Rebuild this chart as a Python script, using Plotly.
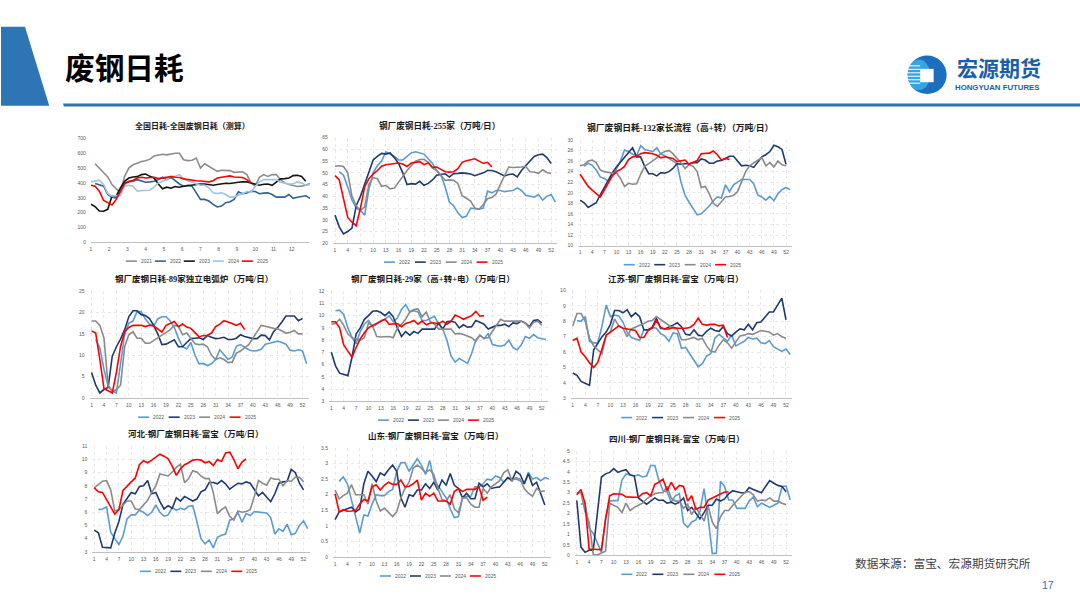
import plotly.graph_objects as go

W, H = 1080, 608
N = None

# ---------- panel 1: national, by month ----------
a1_2021 = [N,529,500,467,440,389,362,333,444,500,522,533,544,549,560,582,589,593,589,596,600,600,556,550,552,567,500,529,511,496,478,485,483,483,471,471,475,456,400,378,438,456,444,456,456,422,400,389,384,376,378,384,396]
a1_2022 = [N,396,389,378,322,304,300,355,400,407,411,422,411,404,407,411,422,438,422,438,415,393,378,384,378,333,289,289,278,255,238,244,267,273,289,340,327,333,344,342,327,331,333,322,304,304,304,322,296,304,309,313,296]
a1_2023 = [256,240,211,209,222,311,311,367,411,433,440,442,456,460,444,433,393,360,371,364,376,371,378,382,389,393,393,393,389,384,389,393,398,396,402,404,407,407,400,393,384,391,393,384,407,427,429,433,449,451,444,411]
a1_2024 = [407,413,418,389,329,311,311,316,378,384,378,344,349,349,351,371,400,411,422,444,444,456,429,415,407,393,384,384,367,333,329,333,322,304,304,318,327,342,338,378,407,422,422,418,422,404,398,393,393,407,400,384,389]
a1_2025 = [384,378,344,282,267,251,289,344,393,411,418,433,438,433,438,438,429,433,440,442,438,436,427,422,418,415,413,411,407,415,433,438,442,447,440,436,436,422,400]

# ---------- panel 2: 255 mills ----------
a2_2022 = [N,50.5,49,44,38.5,35,34,32,43,50,53,55,59,58,57,55.5,55.5,57,58.5,59,58.5,58,56,54,51,49,44,37.5,36,33,31,31.5,35,34.8,34.5,35,42.2,41.5,42.5,42.5,42,42.3,42.5,43.6,42.5,40.5,40.2,39.7,40.8,38.4,40,40.8,37.5]
a2_2023 = [32,27,24,25,26.5,36,40,45,50,55.5,57,58.3,58,58.5,56.5,54,50,45,45.4,45.2,46.4,44.7,45.5,47,49,49.2,49.6,48.2,49.7,49.8,50,49.8,49.5,48.8,49.3,50,51,51,50.5,49.5,48.7,49.3,49.5,48.3,51,53,55,57,57.7,58,56.5,54]
a2_2024 = [52.8,53,52.7,50,40,36,34,35.5,45,48,47.5,44.2,44.7,43.2,43.5,46,49,51,53,55,55.7,55.8,54.5,52,51,49,46.8,47,46.8,45.5,40.3,39.2,38,35,34.5,36.5,39,39.5,41,45,49,52.5,52.3,52.3,52.5,52.8,50.5,50.4,49.8,51.3,50.2,49.7]
a2_2025 = [48.8,47,39,31,29,27.5,35,44,47.5,49.5,51,52.8,53.5,53.7,53.8,54.2,53.8,52.7,54.2,54.5,54.8,53.5,54.2,52.4,52.5,51.5,50.5,50.3,50.5,51.8,54.5,55.2,55.6,56,55,54,54.5,52.5]

# ---------- panel 3: 132 long-process ----------
a3_2022 = [N,25,25.6,25.2,24.3,23,22.7,22.2,23.2,24.5,26,28.1,27.8,27.3,27,28.9,28.2,28,27.8,28.5,27.3,27,26.5,26,25.5,22,19.5,18.2,17,15.8,16,16.7,17.5,18.5,19.2,19,21.5,20.2,21.5,22,22.5,22.5,22.5,21.7,19.6,19.2,18.6,19.3,18.5,19.8,20.6,21,20.6]
a3_2023 = [18.6,18.1,17.2,17.6,18.1,19.6,21,22.5,23.8,24.9,25.8,26.6,27.6,28.5,26.8,26.8,25,23.6,23.6,23.2,23.8,23.7,24,24.6,25.5,25.4,25.5,25.5,25.7,25.7,26.4,26.2,25.6,25.6,26,26.1,26.5,26.9,26.9,26,25.1,25.2,25.1,24.8,25.7,26.8,27.2,27.8,29,28.7,28.2,25.4]
a3_2024 = [25.1,25.3,26,26.2,25.7,24.3,24,23.8,23.7,23.8,22.7,21.2,21.8,21.6,21.7,23.5,25,25.5,26,26.6,27.4,27.8,28,27.4,26.5,25.7,24.6,25.3,25,24,21,21.2,19.8,18,17.4,18.2,19.2,19.3,19.5,20.2,22,24,25.1,25.6,26.2,26.7,25.1,25.7,24.9,26,25.3,25.1]
a3_2025 = [23.5,22.3,21.2,20.5,19.8,19.2,20.5,22,23.2,24,24.4,25,26.3,26.8,26.9,27.4,27.6,27.5,27.4,27.1,26.6,26.8,26.7,26.5,25.9,26.1,26.2,25.4,25.8,26.1,27.4,27.4,27.5,27.9,27.2,26.2,26.5,26.3]

# ---------- panel 4: 89 EAF ----------
a4_2022 = [N,13.7,11.7,6.7,2.8,1.7,1.2,8,15,17.5,18,20.2,20.2,18.5,17.3,16.8,18.5,19,19,18,16.5,14,12,11.5,13,10,8,8.1,7.6,8,9,11.3,10.2,9,9.6,12.1,12.5,11.9,11.3,11,11.1,11.4,12.6,12.8,13.1,13.3,13,12.6,11.2,11,11.3,11,8]
a4_2023 = [6,3,1.2,2,2.5,9.8,12,13.8,16,19,20.4,20.4,19.5,19.3,18.6,17,15,12.5,12.6,13.2,13.6,12,12,13,13.9,14,14.1,13.7,14.6,14.2,13.9,14,14.2,13.7,13.7,14,14.8,14.4,14.1,13.9,13.9,14.7,14.6,13.6,15.5,16.5,17.8,19.2,19.2,19.2,18.1,18.6]
a4_2024 = [18,18,17,14,3,1.5,2,3,12,14.8,15.5,14,14,12.8,12.8,13.5,14,14.7,15.3,16,17,16.8,14.8,15.2,14,12.7,12.5,12.6,12,10,9,9.4,9,8.3,8.4,10.5,11,11.7,12.5,14,15.5,17,16.8,16.5,16.3,16.2,15.6,15.2,15.4,15.8,15,15]
a4_2025 = [15.7,15.2,9,2.2,1.7,1.2,6,12,15.5,16.5,17,17,17,16.7,17,16.9,16.2,15.4,17,17.5,17.9,16.7,17.3,16.6,16.3,15.3,14.3,14.6,14.7,15.2,16.7,17.3,18.1,17.8,17.4,17,17.5,16]

# ---------- panel 5: 29 mills ----------
a5_2022 = [N,10.4,10.45,10.1,9,8.2,7.7,8.7,9.3,9.6,9.1,9.3,9.6,9.7,10,9.5,9.8,10.5,10.9,10.3,10.4,10.3,9.6,9.6,9.8,9.95,9.3,8.9,8,6.7,6.2,6.5,6.3,6.1,6.9,8,8.4,8.1,8.55,7.65,7.55,7.5,7.6,8,7.4,7.2,7.6,8.3,8.15,8.45,8.2,8.15,8.05]
a5_2023 = [7,5.9,5.3,5.2,5.1,6.6,8.5,9,9.7,10,10.35,10.4,10.25,10,10.3,9.9,9,8.3,8.7,8.4,8.7,8.55,8.9,8.9,8.9,8.9,9.4,8.9,9.5,9.55,9.45,9,9.25,9.05,9.1,9.6,9.45,9.3,8.9,9.05,9.2,9.2,9.3,9.1,9.4,9.35,9.55,9.4,9.1,9.6,9.65,9.4]
a5_2024 = [9.3,9.35,9.7,9.2,8.5,8.2,8.1,8,8.2,9.4,9.15,8.3,8.25,8.25,8.3,8.2,9,9.3,9.7,10.3,10.5,10.55,9.9,10.3,9.5,9.3,8.9,8.9,8.9,8.9,8.5,8.55,8.45,8.35,8.2,7.9,8.4,8.15,8.2,8.7,9.2,9.7,9.55,9.55,9.55,9.55,9.55,9.4,9,9.45,9.55,9.2]
a5_2025 = [9.5,9.5,9,7.6,7.1,6.6,7.4,8.1,8.6,9,9.2,9.35,9.55,9.7,9.3,9.3,9.35,9.1,9.35,9.45,9.6,9.3,9.55,9.25,9.4,9.4,9.35,9.55,9.3,9.55,10.05,9.9,9.7,9.85,10,10.35,9.95,10]

# ---------- panel 6: Jiangsu ----------
a6_2022 = [N,8.05,8,8.3,6.7,6.6,6.6,7.7,9.05,8.3,8.4,8.35,7.95,7.3,6.95,6.85,6.75,7.45,7.4,7.6,7.55,7.2,7.05,6.7,7.25,7.2,6.25,6.3,5.9,5.45,5.05,5.25,5.75,5.9,6.9,7.15,6.95,6.7,7.1,6.4,6.55,6.7,6.95,6.85,6.9,6.6,6.55,6.75,6.35,6.2,6.05,6.2,5.85]
a6_2023 = [4.65,4.5,4.1,3.95,3.85,6.15,6.6,7,7.3,7.8,8.7,8.7,8.55,8.75,8.3,8.55,8.3,7.45,7.45,7.6,8.2,7.55,7.5,7.6,7.75,7.9,7.65,7.15,7.1,7.45,7.1,7.05,7.35,7.55,7.4,7.35,7.65,7.2,7.05,7.3,7.5,7.45,7.8,7.45,7.9,7.95,8.3,8.6,8.6,9.1,9.5,8.1]
a6_2024 = [7.7,8.5,8.5,8,6.9,6.4,6.15,5.9,7.1,7.3,8.15,7.7,7.55,7,7.5,7.6,7.7,7.85,8,8.05,8.3,8.1,7.9,7.7,7.55,7.5,6.8,6.8,6.9,6.95,6.8,6.9,6.4,6.05,6,6.45,6.8,6.6,6.25,6.65,7.05,7.1,7.2,7.15,7.3,7.4,7.35,7.3,7.1,7.2,7,6.9]
a6_2025 = [6.75,6.9,6,5.7,5.3,5,5.35,6.3,7.1,7.3,7.5,7.7,7.55,7.5,7.45,7.4,6.95,6.95,7.4,7.55,8.05,7.6,7.5,7.5,7.6,7.55,7.55,7.55,7.6,7.8,8.2,7.8,7.75,7.8,7.8,7.7,7.75,6.95]

# ---------- panel 7: Hebei ----------
a7_2022 = [N,6.2,6.25,6.4,4.5,4,3.55,4.2,5.5,5.8,5.8,6.15,6,5.75,6,6.55,6,5.7,5.8,6.35,6.15,6.3,6.2,6.45,6.5,5.3,4,3.6,3.9,3.3,4.1,4.25,4.35,5.4,5.5,6,5.25,5.9,5.75,6.05,6,5.95,5.95,5.6,4.35,4.75,4.55,5.1,4.3,4.4,5,5.35,4.75]
a7_2023 = [4.65,4.45,3.35,3.3,3.3,4.4,5.3,6.6,7.1,7.5,7.4,7.95,8,8.4,7.4,7.5,6.8,6.25,6.5,6.3,7.1,6.85,7.2,7,6.85,7,7.55,7.7,8.25,8.25,8.15,8.4,8.15,7.75,8,8.2,8.15,8.3,8.2,7.75,7.25,7.5,7.15,6.8,7.4,8.2,8.3,8.35,9.25,9,8.2,7.7]
a7_2024 = [7.85,8.1,8.35,8.4,7.7,6.1,6.2,6.55,6.85,6.85,6.25,6.2,6.55,6.9,7.5,8,8.9,8.85,8.75,9.05,9.4,9.65,8.25,8.55,9.15,9.05,8.75,8.55,8.55,7.5,5.9,6.2,6.4,5.7,5.4,6.1,6,6.05,6.2,7.2,8.4,8.2,8.05,8.6,8.5,8.5,8,8.4,8.35,8.65,8.65,8.3]
a7_2025 = [7.85,7.55,7.5,7,6.4,5.85,6.2,7.65,8,8.3,8.6,9.6,9.9,9.75,9.95,10.15,10.4,10.25,10.05,9.5,8.8,9.3,9.6,9.75,9.95,10,9.95,9.75,9.85,9.55,10,9.85,10.5,10.55,10,9.3,9.8,10.05]

# ---------- panel 8: Shandong ----------
a8_2022 = [N,2.42,2.57,2.35,1.85,1.3,0.77,1.35,1.32,1.7,2,1.97,1.97,2.1,2.17,2.75,3.02,3.03,2.75,2.95,3.15,2.95,2.65,3.1,2.5,2.3,2.1,1.9,1.55,1.27,1.3,1.9,1.95,1.95,2.25,2.25,2.35,2.5,2.47,2.6,2.55,2.4,2.55,2.5,2.5,2.45,2.35,2.72,2.5,2.55,2.45,2.55,2.5]
a8_2023 = [1.2,1.45,1.5,1.55,1.6,1.45,1.55,2.35,2.75,2.6,2.42,2.7,2.62,2.8,2.95,2.75,1.9,1.6,2,1.95,2.15,2.15,2.35,2.2,2.4,2.15,2.47,2.3,2.68,2.3,2.2,1.9,2.05,1.87,1.87,2.37,2.25,2.35,2.2,2.23,2.25,2.4,2.55,2.45,2.75,2.65,2.35,2.67,2.3,2.4,2,1.67]
a8_2024 = [2.15,1.87,1.97,2.05,2.32,2,2,2,1.7,2.35,1.8,1.48,1.57,1.45,1.3,1.45,1.9,2.2,2.4,2.85,2.95,2.85,2.7,2.8,2.65,2.2,1.85,1.8,2,1.55,1.42,1.9,1.9,1.7,1.6,1.6,2.2,2.05,2.25,2.35,2.45,2.7,2.8,2.45,2.55,2.5,2.2,2.05,1.95,2.2,2.1,2.13]
a8_2025 = [2.03,1.45,1.52,1.47,1.48,1.5,1.7,1.85,1.8,2.25,2.32,2.15,2.3,2.4,2.33,2.33,2.47,2.25,2.27,2.35,2.47,1.83,2.05,1.95,2.05,1.8,1.8,1.8,1.7,2.1,2.2,2.1,2.17,2.17,2.17,2.25,1.82,1.92]

# ---------- panel 9: Sichuan ----------
a9_2022 = [N,2.45,2.5,1.3,1.05,0.6,0.15,1.8,2.6,2.62,2.62,3.6,3.9,3.85,3.8,3.85,3.75,3.8,4.3,4.3,3.6,3.1,3.05,2.55,2.85,2.95,1.55,1.35,1.6,1.7,2.1,3.2,1.8,0.1,0.1,3.55,3.3,2.65,2.65,2.25,2.25,2.25,2.6,2.8,2.33,2.5,2.4,2.3,2.4,2.5,3.3,3.32,2.65]
a9_2023 = [2.63,0.4,0.15,0.25,0.25,2,3.75,3.9,3.97,4.15,3.97,4.05,4.1,3.85,3.8,2.75,2.6,2.45,2.6,2.75,2.63,2.65,2.5,2.55,2.45,2.55,2.75,2.15,2.3,2.05,1.75,2.05,2.4,2.4,2.7,2.6,2.7,2.95,3.1,3.05,3,3,3.25,3.15,3.08,3,3.3,3.58,3.45,3.35,3.3,3.05]
a9_2024 = [3,3,2.1,1.6,0.05,0.03,0.12,0.2,2.5,2.4,2.3,2.05,2.5,2.15,2.3,2.4,2.5,2.7,2.85,2.95,3,3,3.3,2.75,2.6,2.6,2.25,2.45,1.95,2.3,1.95,1.65,2.35,1.6,1.28,1.85,2.15,2.15,2.4,2.6,2.8,3.02,3.05,2.9,2.6,2.65,2.62,2.75,2.6,2.6,2.5,2.42]
a9_2025 = [2.9,3.15,2.5,0.3,0.3,0.28,0.28,1.7,2.85,2.95,2.95,2.93,2.8,2.78,2.78,2.78,2.95,3,2.85,3.4,3.5,3.65,3.1,3.5,3.15,3.35,3.3,2.6,2.85,2.2,2.3,2.3,2.65,2.75,2.85,2.95,3.03,3.03]

weeks = list(range(1, 54))
week_ticks = list(range(1, 53, 3))
month_ticks = list(range(1, 13))
BLUE, NAVY, GRAY, RED = "#5b9bd5", "#1f3a72", "#8a8a8a", "#ff0000"
C4 = {"2022": BLUE, "2023": NAVY, "2024": GRAY, "2025": RED}
C5 = {"2021": "#8c8c8c", "2022": "#2f6294", "2023": "#141414", "2024": "#9dc3e6", "2025": "#ff0000"}
CJK = "Noto Sans CJK SC"
SERIF = f"Liberation Serif, {CJK}"
LW = 1.6
GRID = "#e8e8e8"

panels = [
    dict(title="全国日耗-全国废钢日耗（测算）", series={"2021": a1_2021, "2022": a1_2022, "2023": a1_2023, "2024": a1_2024, "2025": a1_2025},
         box=(90, 309.3, 136.7, 241.7), yr=(0, 700), dy=100, tc=(191.7, 124), ts=8, leg=(125, 260.7, 29), grid=False, monthly=True),
    dict(title="钢厂废钢日耗-255家（万吨/日）", series={"2022": a2_2022, "2023": a2_2023, "2024": a2_2024, "2025": a2_2025},
         box=(332.2, 557, 136, 242.7), yr=(20, 65), dy=5, tc=(439, 124), ts=8.6, leg=(383.3, 261.7, 30.9)),
    dict(title="钢厂废钢日耗-132家长流程（高+转）（万吨/日）", series={"2022": a3_2022, "2023": a3_2023, "2024": a3_2024, "2025": a3_2025},
         box=(577.6, 791.8, 138.3, 245), yr=(10, 30), dy=2, tc=(679.3, 125.3), ts=8.8, leg=(623.3, 264.3, 30.5)),
    dict(title="钢厂废钢日耗-89家独立电弧炉（万吨/日）", series={"2022": a4_2022, "2023": a4_2023, "2024": a4_2024, "2025": a4_2025},
         box=(88.6, 308, 291, 399), yr=(0, 25), dy=5, tc=(192.7, 279), ts=8.5, leg=(137.3, 418.3, 30.5)),
    dict(title="钢厂废钢日耗-29家（高+转+电）（万吨/日）", series={"2022": a5_2022, "2023": a5_2023, "2024": a5_2024, "2025": a5_2025},
         box=(328.6, 547.5, 291, 402.3), yr=(3, 12), dy=1, tc=(432.7, 278.7), ts=8.5, leg=(377.3, 421.3, 30)),
    dict(title="江苏-钢厂废钢日耗-富宝（万吨/日）", series={"2022": a6_2022, "2023": a6_2023, "2024": a6_2024, "2025": a6_2025},
         box=(570.2, 792, 290.3, 399.3), yr=(3, 10), dy=1, tc=(675.7, 279), ts=8.5, leg=(620.7, 418.7, 31)),
    dict(title="河北-钢厂废钢日耗-富宝（万吨/日）", series={"2022": a7_2022, "2023": a7_2023, "2024": a7_2024, "2025": a7_2025},
         box=(91.3, 309, 447.7, 554.3), yr=(3, 11), dy=1, tc=(195, 435.3), ts=8.5, leg=(139, 574, 30.5)),
    dict(title="山东-钢厂废钢日耗-富宝（万吨/日）", series={"2022": a8_2022, "2023": a8_2023, "2024": a8_2024, "2025": a8_2025},
         box=(332.3, 550.5, 449.3, 559.7), yr=(0, 3.5), dy=0.5, tc=(435, 437), ts=8.5, leg=(379.3, 578.7, 30)),
    dict(title="四川-钢厂废钢日耗-富宝（万吨/日）", series={"2022": a9_2022, "2023": a9_2023, "2024": a9_2024, "2025": a9_2025},
         box=(574.3, 792, 452.3, 558), yr=(0, 5), dy=0.5, tc=(676.7, 440), ts=8.5, leg=(621, 577, 31)),
]

def X(px): return px / W
def Y(py): return 1 - py / H

fig = go.Figure()
shapes, annos, layout = [], [], {}
TICK = dict(size=5, color="#595959", family="Liberation Sans")

for i, p in enumerate(panels, 1):
    suffix = "" if i == 1 else str(i)
    x0, x1, top, bottom = p["box"]
    monthly = p.get("monthly", False)
    colors = C5 if monthly else C4
    for name, vals in p["series"].items():
        fig.add_trace(go.Scatter(x=weeks[:len(vals)], y=vals, mode="lines", name=name, showlegend=False,
                                 connectgaps=False, hoverinfo="skip",
                                 line=dict(color=colors[name], width=LW),
                                 xaxis=f"x{suffix}", yaxis=f"y{suffix}"))
    grid = p.get("grid", True)
    if monthly:
        tv = [1 + (m - 1) * 52 / 12 for m in month_ticks]
        tt = [str(m) for m in month_ticks]
        xr = [1, 53]
    else:
        tv = week_ticks
        tt = [str(w) for w in week_ticks]
        xr = [0.5, 53.5]
    layout[f"xaxis{suffix}"] = dict(domain=[X(x0), X(x1)], range=xr, tickmode="array", tickvals=tv, ticktext=tt,
                                    anchor=f"y{suffix}", showgrid=grid, gridcolor=GRID, griddash="dot", gridwidth=0.5,
                                    showline=True, linecolor="#bfbfbf", linewidth=0.8, ticks="", zeroline=False,
                                    tickangle=0, tickfont=TICK, ticklabelstandoff=2)
    layout[f"yaxis{suffix}"] = dict(domain=[Y(bottom), Y(top)], range=list(p["yr"]), dtick=p["dy"], tick0=p["yr"][0],
                                    anchor=f"x{suffix}", showgrid=grid, gridcolor=GRID, griddash="dot", gridwidth=0.5,
                                    showline=False, ticks="", zeroline=False, tickfont=TICK, ticklabelstandoff=4)
    annos.append(dict(text=f"<b>{p['title']}</b>", xref="paper", yref="paper", x=X(p["tc"][0]), y=Y(p["tc"][1]),
                      xanchor="center", yanchor="middle", showarrow=False,
                      font=dict(size=p["ts"], color="#1a1a1a", family=SERIF)))
    lx, ly, pitch = p["leg"]
    for j, name in enumerate(p["series"]):
        sx = lx + j * pitch
        shapes.append(dict(type="line", xref="paper", yref="paper", x0=X(sx), x1=X(sx + 11), y0=Y(ly), y1=Y(ly),
                           line=dict(color=colors[name], width=LW)))
        annos.append(dict(text=name, xref="paper", yref="paper", x=X(sx + 13), y=Y(ly), xanchor="left", yanchor="middle",
                          showarrow=False, font=TICK))

def path(points):
    return "M " + " L ".join(f"{X(a):.5f} {Y(b):.5f}" for a, b in points) + " Z"

HEAD = "#2e75b6"
shapes += [
    dict(type="path", xref="paper", yref="paper", path=path([(0, 24), (24, 24), (48.3, 103.7), (0, 103.7)]),
         fillcolor=HEAD, line=dict(width=0)),
    dict(type="path", xref="paper", yref="paper", path=path([(62, 101.5), (1080, 101.5), (1080, 104.5), (63, 104.5)]),
         fillcolor=HEAD, line=dict(width=0)),
    # logo
    dict(type="circle", xref="paper", yref="paper", x0=X(907.5), x1=X(946.5), y0=Y(92), y1=Y(53),
         fillcolor="#1c6fbe", line=dict(width=0)),
    dict(type="circle", xref="paper", yref="paper", x0=X(907.5), x1=X(930), y0=Y(88), y1=Y(57),
         fillcolor="#37a6e0", line=dict(width=0)),
    dict(type="rect", xref="paper", yref="paper", x0=X(920), x1=X(933.5), y0=Y(80), y1=Y(66.5),
         fillcolor="white", line=dict(width=0)),
]
for sy in (63.5, 67, 70.5, 74, 77.5, 81):
    shapes.append(dict(type="line", xref="paper", yref="paper", x0=X(906), x1=X(920), y0=Y(sy), y1=Y(sy),
                       line=dict(color="white", width=1)))

annos += [
    dict(text="<b>废钢日耗</b>", xref="paper", yref="paper", x=X(62), y=Y(64), xanchor="left", yanchor="middle",
         showarrow=False, font=dict(size=29.7, color="#000000", family=CJK)),
    dict(text="<b>宏源期货</b>", xref="paper", yref="paper", x=X(998.5), y=Y(64.5), xanchor="center", yanchor="middle",
         showarrow=False, font=dict(size=21, color="#1a5ea8", family=CJK)),
    dict(text="<b>HONGYUAN FUTURES</b>", xref="paper", yref="paper", x=X(997), y=Y(85), xanchor="center", yanchor="middle",
         showarrow=False, font=dict(size=7.8, color="#1a5ea8", family="Liberation Sans")),
    dict(text="数据来源：富宝、宏源期货研究所", xref="paper", yref="paper", x=X(853), y=Y(565), xanchor="left", yanchor="middle",
         showarrow=False, font=dict(size=11.7, color="#404040", family=CJK)),
    dict(text="17", xref="paper", yref="paper", x=X(1048), y=Y(588), xanchor="center", yanchor="middle",
         showarrow=False, font=dict(size=10.5, color="#2e75b6", family="Liberation Sans")),
]

fig.update_layout(width=W, height=H, margin=dict(l=0, r=0, t=0, b=0), paper_bgcolor="white", plot_bgcolor="white",
                  showlegend=False, shapes=shapes, annotations=annos, hovermode=False, **layout)

fig.write_html("out.html", config={"displayModeBar": False},
               post_script="document.body.style.margin='0';document.body.style.overflow='hidden';")
